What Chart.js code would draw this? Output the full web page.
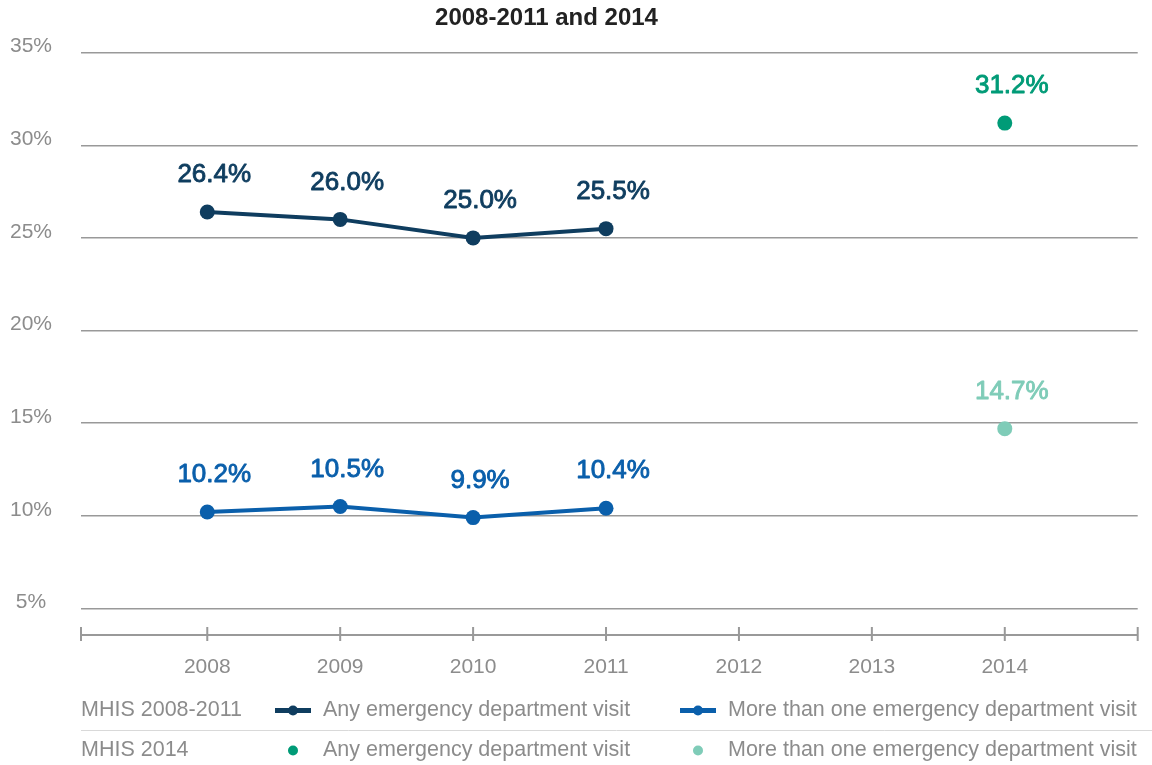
<!DOCTYPE html>
<html>
<head>
<meta charset="utf-8">
<script src="https://cdn.jsdelivr.net/npm/chart.js@4/dist/chart.umd.min.js"></script>
<style>
  html, body { margin: 0; padding: 0; background: #fff; }
  #wrap { width: 1152px; height: 765px; position: relative; }
</style>
</head>
<body>
<div id="wrap"><canvas id="chart"></canvas></div>
<script>
// data
const years2008 = [2008, 2009, 2010, 2011];
const anyVisit0811 = [26.4, 26.0, 25.0, 25.5];
const moreVisit0811 = [10.2, 10.5, 9.9, 10.4];
const years2014 = [2014];
const anyVisit14 = [31.2];
const moreVisit14 = [14.7];
const xTickYears = [2008, 2009, 2010, 2011, 2012, 2013, 2014];
const yTickValues = [5, 10, 15, 20, 25, 30, 35];

const NAVY = '#0f3d5f';
const BLUE = '#0a5fab';
const GREEN = '#009b77';
const TEAL = '#7fccb8';
const GRAY = '#8c8c8c';
const FONT = '"Liberation Sans", Arial, sans-serif';

const pts = (xs, ys) => xs.map((x, i) => ({ x, y: ys[i] }));

const datasets = [
    { label: 'Any emergency department visit', group: 'MHIS 2008-2011', data: pts(years2008, anyVisit0811), color: NAVY, line: true },
    { label: 'More than one emergency department visit', group: 'MHIS 2008-2011', data: pts(years2008, moreVisit0811), color: BLUE, line: true },
    { label: 'Any emergency department visit', group: 'MHIS 2014', data: pts(years2014, anyVisit14), color: GREEN, line: false },
    { label: 'More than one emergency department visit', group: 'MHIS 2014', data: pts(years2014, moreVisit14), color: TEAL, line: false },
].map(d => ({
    label: d.label,
    group: d.group,
    data: d.data,
    borderColor: d.color,
    backgroundColor: d.color,
    borderWidth: 4,
    showLine: d.line,
    pointRadius: 7.5,
    pointHoverRadius: 7.5,
    pointBorderWidth: 0,
    tension: 0,
}));

// title, value labels, x axis line with ticks, bottom legend
const decorations = {
    id: 'decorations',
    afterDatasetsDraw(chart) {
        const ctx = chart.ctx;
        ctx.save();
        ctx.font = '26px ' + FONT;
        ctx.textAlign = 'center';
        ctx.textBaseline = 'middle';
        ctx.lineWidth = 0.9;
        ctx.lineJoin = 'round';
        chart.data.datasets.forEach((ds, i) => {
            chart.getDatasetMeta(i).data.forEach((pt, j) => {
                const txt = ds.data[j].y.toFixed(1) + '%';
                ctx.fillStyle = ds.borderColor;
                ctx.strokeStyle = ds.borderColor;
                ctx.fillText(txt, pt.x + 7, pt.y - 37);
                ctx.strokeText(txt, pt.x + 7, pt.y - 37);
            });
        });
        ctx.restore();
    },
    afterDraw(chart) {
        const ctx = chart.ctx;
        const xs = chart.scales.x;
        const area = chart.chartArea;
        ctx.save();

        // title
        ctx.fillStyle = '#222';
        ctx.font = 'bold 24px ' + FONT;
        ctx.textAlign = 'center';
        ctx.textBaseline = 'middle';
        ctx.fillText('2008-2011 and 2014', 546.5, 18);

        // x axis line and ticks
        const ay = area.bottom;
        ctx.strokeStyle = '#999';
        ctx.lineWidth = 2;
        ctx.beginPath();
        ctx.moveTo(area.left, ay);
        ctx.lineTo(area.right, ay);
        const tickXs = [area.left, ...xTickYears.map(v => xs.getPixelForValue(v)), area.right];
        tickXs.forEach(x => {
            ctx.moveTo(x, ay - 8);
            ctx.lineTo(x, ay + 6);
        });
        ctx.stroke();

        // legend table
        const groups = ['MHIS 2008-2011', 'MHIS 2014'];
        const rowY = [710.5, 750.5];
        const colX = [293, 698];
        ctx.font = '21.5px ' + FONT;
        ctx.textAlign = 'left';
        ctx.textBaseline = 'middle';
        groups.forEach((g, r) => {
            ctx.fillStyle = GRAY;
            ctx.fillText(g, 81, rowY[r]);
            const items = chart.data.datasets.filter(d => d.group === g);
            items.forEach((d, c) => {
                const cx = colX[c];
                const cy = rowY[r];
                ctx.fillStyle = d.borderColor;
                ctx.strokeStyle = d.borderColor;
                if (d.showLine) {
                    ctx.lineWidth = 5;
                    ctx.beginPath();
                    ctx.moveTo(cx - 18, cy);
                    ctx.lineTo(cx + 18, cy);
                    ctx.stroke();
                }
                ctx.beginPath();
                ctx.arc(cx, cy, 5, 0, Math.PI * 2);
                ctx.fill();
                ctx.fillStyle = GRAY;
                ctx.fillText(d.label, cx + 30, cy);
            });
        });
        ctx.strokeStyle = '#d9d9d9';
        ctx.lineWidth = 1;
        ctx.beginPath();
        ctx.moveTo(81, 730.5);
        ctx.lineTo(1152, 730.5);
        ctx.stroke();

        ctx.restore();
    }
};

new Chart(document.getElementById('chart'), {
    type: 'scatter',
    data: { datasets },
    options: {
        responsive: true,
        maintainAspectRatio: false,
        animation: false,
        layout: { padding: { top: 52.7, right: 14.3, bottom: 85, left: 0 } },
        plugins: {
            legend: { display: false },
            title: { display: false },
            tooltip: { enabled: false },
        },
        scales: {
            x: {
                type: 'linear',
                min: 2007.05,
                max: 2015,
                afterBuildTicks: s => { s.ticks = xTickYears.map(v => ({ value: v })); },
                afterFit: s => { s.height = 45; },
                grid: { display: false, drawTicks: false },
                border: { display: false },
                ticks: {
                    color: GRAY,
                    font: { family: FONT, size: 21 },
                    padding: 20,
                    maxRotation: 0,
                    callback: v => String(v),
                },
            },
            y: {
                min: 3.56,
                max: 35,
                afterBuildTicks: s => { s.ticks = yTickValues.map(v => ({ value: v })); },
                afterFit: s => { s.width = 81; },
                grid: { color: '#999', lineWidth: 1.5, drawTicks: false },
                border: { display: false },
                ticks: {
                    color: GRAY,
                    font: { family: FONT, size: 21 },
                    crossAlign: 'center',
                    padding: 29,
                    labelOffset: -6,
                    callback: v => v + '%',
                },
            },
        },
    },
    plugins: [decorations],
});
</script>
</body>
</html>
